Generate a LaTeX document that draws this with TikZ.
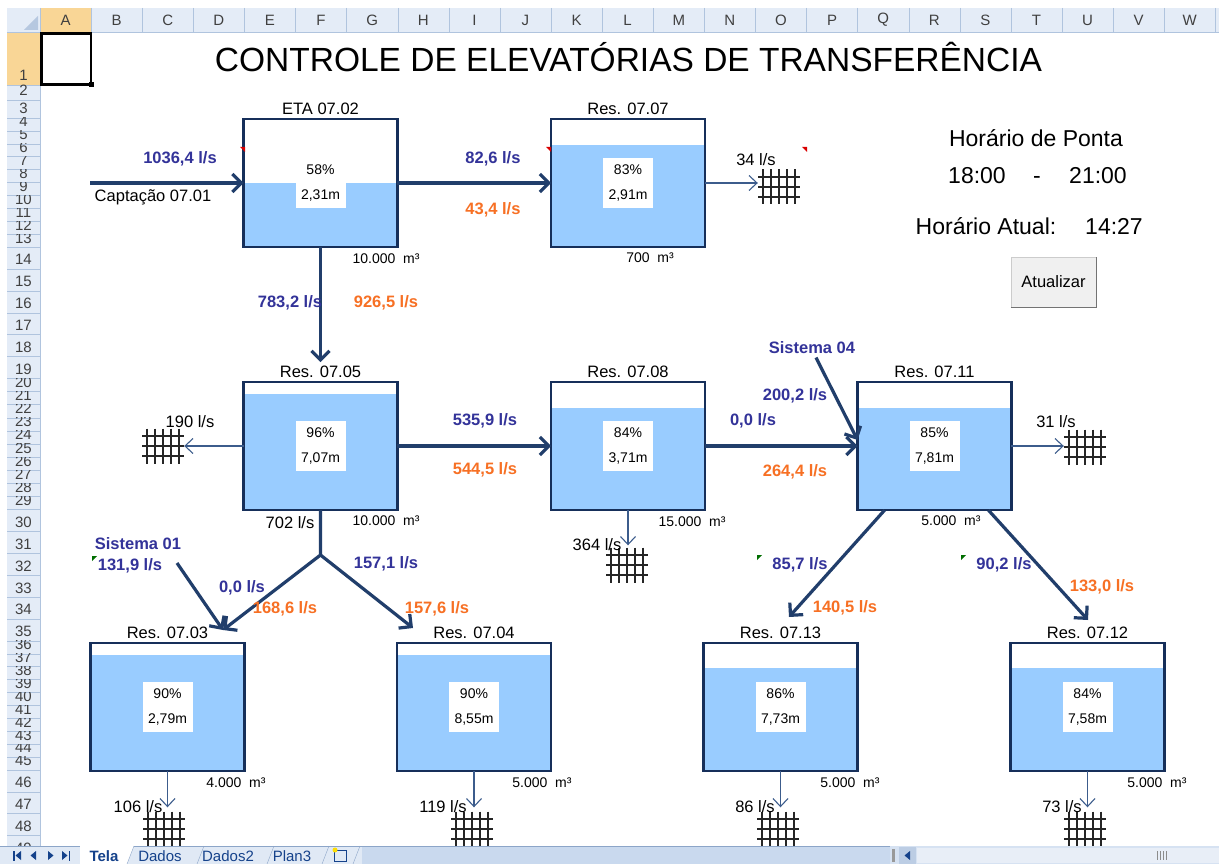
\documentclass[tikz,border=0pt]{standalone}
\usepackage{fontspec}
\setmainfont{Liberation Sans}
\usepackage{tikz}
\usetikzlibrary{arrows.meta, positioning}

\definecolor{contorno}{RGB}{22,47,90}
\definecolor{seta}{RGB}{33,62,107}
\definecolor{setafina}{RGB}{60,92,140}
\definecolor{agua}{RGB}{153,204,255}
\definecolor{azulv}{RGB}{51,51,153}
\definecolor{laranja}{RGB}{247,112,36}
\definecolor{cabecfundo}{RGB}{228,236,247}
\definecolor{cabeclinha}{RGB}{176,196,222}
\definecolor{cabecsel}{RGB}{249,214,150}
\definecolor{cantosel}{RGB}{182,200,224}
\definecolor{abas}{RGB}{201,217,238}
\definecolor{abasclaro}{RGB}{224,233,245}
\definecolor{abaslinha}{RGB}{140,165,200}
\definecolor{abatexto}{RGB}{21,66,139}
\definecolor{barrafundo}{RGB}{214,226,242}
\definecolor{botaobarra}{RGB}{188,205,228}
\definecolor{polegar}{RGB}{232,238,247}
\definecolor{verdecom}{RGB}{0,110,0}

\begin{document}
\begin{tikzpicture}[
    x=1pt, y=-1pt,
    every node/.style={font=\fontsize{16.5}{18}\selectfont},
    cabec/.style={font=\fontsize{15}{16}\selectfont, text=black!75},
    tanque/.style={rectangle, minimum width=153.5, minimum height=128, inner sep=0},
    borda/.style={draw=contorno, line width=2.2pt},
    valor/.style={fill=white, minimum width=50, minimum height=50, inner sep=0, align=center, font=\fontsize{14}{25}\selectfont},
    volume/.style={font=\fontsize{14}{16}\selectfont},
    azul/.style={font=\bfseries\fontsize{16.5}{18}\selectfont, text=azulv},
    laran/.style={font=\bfseries\fontsize{16.5}{18}\selectfont, text=laranja},
    painel/.style={font=\fontsize{23}{26}\selectfont, text height=17, text depth=5},
    fluxo/.style={-{Straight Barb[length=9pt,width=18pt]}, line width=3.2pt, draw=seta},
    saida/.style={-{Straight Barb[length=8pt,width=15pt]}, line width=1.1pt, draw=setafina},
    linhagrade/.style={line width=1.5pt, draw=black!85},
    grade/.style={minimum width=42, minimum height=35, inner sep=0, fill=white,
      path picture={
        \foreach \gx in {5,13,21,29,37}
          \draw[linhagrade] ([xshift=\gx pt]path picture bounding box.north west) -- ([xshift=\gx pt]path picture bounding box.south west);
        \foreach \gy in {7.5,17.5,27.5}
          \draw[linhagrade] ([yshift=-\gy pt]path picture bounding box.north west) -- ([yshift=-\gy pt]path picture bounding box.north east);
      }},
    aba/.style={font=\fontsize{15}{16}\selectfont, text=abatexto},
    botao/.style={fill=black!6, draw=black!20, minimum width=85, minimum height=50, inner sep=0, font=\fontsize{16.5}{18}\selectfont}
]
\useasboundingbox (0,0) rectangle (1219,864);

% planilha
\fill[white] (0,0) rectangle (1219,864);
\fill[cabecfundo] (7,8) rectangle (1219,32);
\fill[cabecfundo] (7,32) rectangle (40,846);
\fill[cabecsel] (40,8) rectangle (91.1,32);
\fill[cabecsel] (7,32) rectangle (40,85);
\fill[cantosel] (24,30) -- (38,30) -- (38,16) -- cycle;
\foreach \c [count=\i from 0] in {A,...,W} {
  \draw[cabeclinha] ({91.1+51.1*\i},8) -- ++(0,24);
  \node (col\c) [cabec] at ({65.55+51.1*\i},20) {\c};
}
\draw[cabeclinha] (7,32) -- (1219,32) (40,8) -- (40,846);
\foreach \r/\yb in {1/85, 2/100, 3/118} {
  \draw[cabeclinha] (7,\yb) -- (40,\yb);
  \node (lin\r) [cabec, anchor=base] at (23.5,{\yb-4}) {\r};
}
\foreach \ra/\rb/\rt/\rh in {4/13/118/12.9, 14/19/247/21.9, 20/29/378.4/13.1, 30/35/509.4/21.9, 36/45/640.8/12.9, 46/49/769.8/21.9}
  \foreach \r in {\ra,...,\rb} {
    \pgfmathsetmacro\yb{\rt+\rh*(\r-\ra+1)}
    \draw[cabeclinha] (7,\yb) -- (40,\yb);
    \begin{scope}
      \clip (7,{\yb-\rh}) rectangle (40,\yb);
      \node (lin\r) [cabec, anchor=base] at (23.5,{\yb-4}) {\r};
    \end{scope}
  }
\draw[line width=2.2pt] (41.5,33.5) rectangle (91,84.5);
\fill (88.5,82) rectangle (94,87.5);

\node (titulo) [font=\fontsize{33.5}{36}\selectfont] at (628.5,57) {CONTROLE DE ELEVATÓRIAS DE TRANSFERÊNCIA};

% reservatorios
\foreach \nm/\cx/\cy/\faixa/\rot/\pc/\nv in {
    eta/320.5/183/64/ETA 07.02/58/{2,31},
    r0707/628/183/26/Res. 07.07/83/{2,91},
    r0705/320.5/446/12/Res. 07.05/96/{7,07},
    r0708/628/446/26/Res. 07.08/84/{3,71},
    r0711/934.5/446/26/Res. 07.11/85/{7,81},
    r0703/167.5/707/12/Res. 07.03/90/{2,79},
    r0704/474/707/12/Res. 07.04/90/{8,55},
    r0713/780.5/707/25/Res. 07.13/86/{7,73},
    r0712/1087.5/707/25/Res. 07.12/84/{7,58}} {
  \node (\nm) [tanque] at (\cx,\cy) {};
  \fill[agua] (\nm.south west) rectangle ([yshift=-\faixa pt]\nm.north east);
  \draw[borda] (\nm.south west) rectangle (\nm.north east);
  \node[valor] at (\nm) {\pc\%\\\nv m};
  \node (\nm t) [above=1pt of \nm] {\rot};
}

\node (vol02) [volume] at (386,259) {10.000~~m³};
\node (vol07) [volume] at (650,258) {700~~m³};
\node (vol05) [volume] at (386,521) {10.000~~m³};
\node (vol08) [volume] at (692,522) {15.000~~m³};
\node (vol11) [volume] at (951,521) {5.000~~m³};
\node (vol03) [volume] at (236,783) {4.000~~m³};
\node (vol04) [volume] at (542,783) {5.000~~m³};
\node (vol13) [volume] at (850,783) {5.000~~m³};
\node (vol12) [volume] at (1157,783) {5.000~~m³};

% consumos
\node (g0707) [grade] at (779,187) {};
\node (g0705) [grade] at (163,446) {};
\node (g0711) [grade] at (1085,447) {};
\node (g0708) [grade] at (627,565) {};
\node (g0703) [grade] at (164,829) {};
\node (g0704) [grade] at (472,829) {};
\node (g0713) [grade] at (778,829) {};
\node (g0712) [grade] at (1085,829) {};
\draw[saida] (r0707.east) -- (r0707.east -| g0707.west);
\draw[saida] (r0705.west) -- (r0705.west -| g0705.east);
\draw[saida] (r0711.east) -- (r0711.east -| g0711.west);
\draw[saida] (r0708.south) -- ([yshift=2pt]r0708.south |- g0708.north);
\draw[saida] (r0703.south) -- ([yshift=4pt]r0703.south |- g0703.north);
\draw[saida] (r0704.south) -- ([yshift=4pt]r0704.south |- g0704.north);
\draw[saida] (r0713.south) -- ([yshift=4pt]r0713.south |- g0713.north);
\draw[saida] (r0712.south) -- ([yshift=4pt]r0712.south |- g0712.north);

% aducoes
\coordinate (entrada) at (90,183);
\coordinate (juncao) at (320.5,555);
\coordinate (c0703) at (223,630);
\coordinate (c0704) at (413,628);
\coordinate (s01a) at (177,563);
\coordinate (c0713) at (789,617);
\coordinate (c0712) at (1088,620);
\node (s04) [azul] at (812,348) {Sistema 04};
\node (s01) [azul] at (138,544) {Sistema 01};
\draw[fluxo] (entrada) -- (eta.west);
\draw[fluxo] (eta.east) -- (r0707.west);
\draw[fluxo] (eta.south) -- (r0705t.north);
\draw[fluxo] (r0705.east) -- (r0708.west);
\draw[fluxo] (r0708.east) -- (r0711.west);
\draw[fluxo] ([xshift=4pt]s04.south) -- ([yshift=6pt]r0711.west);
\draw[fluxo] (r0705.south) -- (juncao) -- (c0703);
\draw[fluxo] (juncao) -- (c0704);
\draw[fluxo] (s01a) -- (c0703);
\draw[fluxo] ([xshift=27pt]r0711.south west) -- (c0713);
\draw[fluxo] ([xshift=-23pt]r0711.south east) -- (c0712);

% vazoes
\node (vcapt) [azul] at (180,159) {1036,4 l/s};
\node (capt) at (153,197) {Captação 07.01};
\node (v0707) [azul] at (493,159) {82,6 l/s};
\node (l0707) [laran] at (493,210) {43,4 l/s};
\node (v0705) [azul] at (290,303) {783,2 l/s};
\node (l0705) [laran] at (386,303) {926,5 l/s};
\node (v0708) [azul] at (485,421) {535,9 l/s};
\node (l0708) [laran] at (485,470) {544,5 l/s};
\node (v0711) [azul] at (753,421) {0,0 l/s};
\node (l0711) [laran] at (795,472) {264,4 l/s};
\node (v04) [azul] at (795,396) {200,2 l/s};
\node (v01) [azul] at (130,566) {131,9 l/s};
\node (v0703) [azul] at (242,588) {0,0 l/s};
\node (l0703) [laran] at (285,609) {168,6 l/s};
\node (v0704) [azul] at (386,564) {157,1 l/s};
\node (l0704) [laran] at (437,609) {157,6 l/s};
\node (v0713) [azul] at (800,565) {85,7 l/s};
\node (l0713) [laran] at (845,608) {140,5 l/s};
\node (v0712) [azul] at (1004,565) {90,2 l/s};
\node (l0712) [laran] at (1102,587) {133,0 l/s};
\node (q0702) at (290,523) {702 l/s};
\node (q0707) at (756,160) {34 l/s};
\node (q0705) at (190,422) {190 l/s};
\node (q0711) at (1056,422) {31 l/s};
\node (q0708) at (597,545) {364 l/s};
\node (q0703) at (138,807) {106 l/s};
\node (q0704) at (443,807) {119 l/s};
\node (q0713) at (755,807) {86 l/s};
\node (q0712) at (1062,807) {73 l/s};

% comentarios
\fill[red!85!black] (240,147) -- (245,147) -- (245,152) -- cycle;
\fill[red!85!black] (546,147) -- (551,147) -- (551,152) -- cycle;
\fill[red!85!black] (802,147) -- (807,147) -- (807,152) -- cycle;
\fill[verdecom] (92,556) -- (97,556) -- (92,561) -- cycle;
\fill[verdecom] (757,555) -- (762,555) -- (757,560) -- cycle;
\fill[verdecom] (961,555) -- (966,555) -- (961,560) -- cycle;

% horario
\node (ponta) [painel] at (1036,141) {Horário de Ponta};
\node (inicio) [painel] at (977,178) {18:00};
\node (traco) [painel] at (1037,178) {-};
\node (fim) [painel] at (1098,178) {21:00};
\node (atual) [painel] at (986,228) {Horário Atual:};
\node (hora) [painel] at (1114,228) {14:27};
\node (atualizar) [botao] at (1053.5,282) {Atualizar};
\draw[black!55, line width=1.2pt] (atualizar.south west) -- (atualizar.south east) -- (atualizar.north east);

% abas
\fill[abas] (0,846) rectangle (1219,864);
\fill[abasclaro] (0,846) rectangle (362,864);
\draw[abaslinha] (0,846.5) -- (1219,846.5);
\fill[white] (80,846) -- (80,864) -- (127,864) -- (134,846) -- cycle;
\foreach \sx in {127,197,267,322,353} \draw[abaslinha] (\sx,864) -- ++(7,-18);
\fill[abatexto] (13,850.5) rectangle (14.5,860.5);
\fill[abatexto] (21,851) -- (15.5,855.5) -- (21,860) -- cycle;
\fill[abatexto] (36,851) -- (30.5,855.5) -- (36,860) -- cycle;
\fill[abatexto] (48,851) -- (53.5,855.5) -- (48,860) -- cycle;
\fill[abatexto] (62,851) -- (67.5,855.5) -- (62,860) -- cycle;
\fill[abatexto] (68.5,850.5) rectangle (70,860.5);
\node (tela) [aba, font=\bfseries\fontsize{15}{16}\selectfont] at (104,856) {Tela};
\node (dados) [aba] at (160,856) {Dados};
\node (dados2) [aba] at (228,856) {Dados2};
\node (plan3) [aba] at (292,856) {Plan3};
\draw[abatexto] (334,850) rectangle (346,861);
\fill[yellow!80!orange] (335,850) circle (2.5);
\fill[barrafundo] (890,846) rectangle (1219,864);
\fill[black!40] (892,849) rectangle (895,862);
\fill[botaobarra] (899,847) rectangle (916,864);
\fill[abatexto] (910,851) -- (904.5,855.5) -- (910,860) -- cycle;
\fill[polegar] (917,848) rectangle (1219,863);
\foreach \gx in {1157,1160,1163,1166} \draw[black!45] (\gx,851) -- (\gx,860);
\end{tikzpicture}
\end{document}
